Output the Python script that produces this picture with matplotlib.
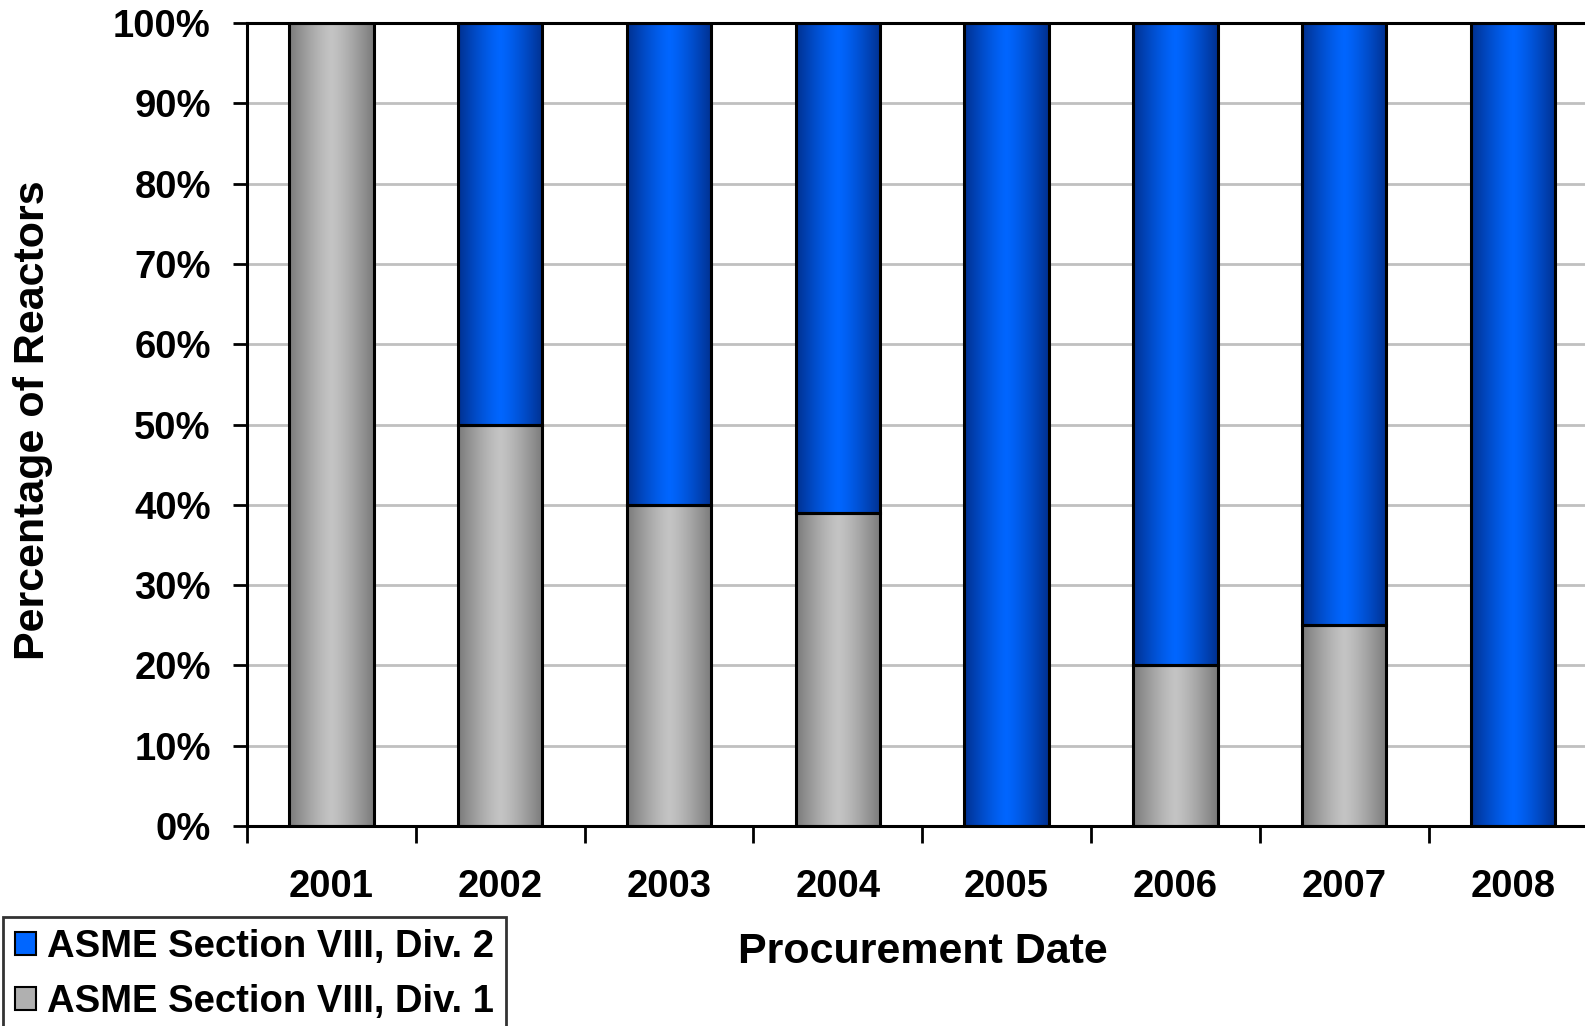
import numpy as np
import matplotlib
matplotlib.use("Agg")
import matplotlib.pyplot as plt
from matplotlib.patches import Patch, Rectangle

years = ["2001", "2002", "2003", "2004", "2005", "2006", "2007", "2008"]
div1 = [100, 50, 40, 39, 0, 20, 25, 0]
div2 = [0, 50, 60, 61, 100, 80, 75, 100]
labels = ["ASME Section VIII, Div. 2", "ASME Section VIII, Div. 1"]

plt.rcParams["font.family"] = ["Liberation Sans", "DejaVu Sans"]
plt.rcParams["font.weight"] = "bold"

fig = plt.figure(figsize=(15.85, 10.26), dpi=100)
ax = fig.add_axes([0.1558, 0.1949, 0.852, 0.7827])

x = np.arange(len(years))
width = 0.5

# horizontal shading: dark edges, light centre
t = np.linspace(0, 1, 200)
shade = 1 - np.clip(np.abs(t - 0.5) / 0.5, 0, 1) ** 1.3


def gradient(edge, centre):
    edge = np.array(matplotlib.colors.to_rgb(edge))
    centre = np.array(matplotlib.colors.to_rgb(centre))
    return (edge[None, :] + (centre - edge)[None, :] * shade[:, None])[None, :, :]


gray_img = gradient("#7a7a7a", "#c4c4c4")
blue_img = gradient("#00308f", "#0066ff")


def draw_bars(bottoms, heights, img):
    for xi, b, h in zip(x, bottoms, heights):
        if h <= 0:
            continue
        ax.imshow(img, extent=(xi - width / 2, xi + width / 2, b, b + h),
                  aspect="auto", zorder=2, interpolation="bilinear")
        ax.add_patch(Rectangle((xi - width / 2, b), width, h, facecolor="none",
                               edgecolor="black", linewidth=2.2, zorder=3))


draw_bars([0] * len(x), div1, gray_img)
draw_bars(div1, div2, blue_img)

ax.set_xlim(-0.5, len(years) - 0.5)
ax.set_ylim(0, 100)

ax.set_yticks(np.arange(0, 101, 10))
ax.set_yticklabels([f"{v}%" for v in range(0, 101, 10)], fontsize=27.5, fontweight="bold")
ax.yaxis.grid(True, color="#c0c0c0", linewidth=2, zorder=0)
ax.set_axisbelow(True)

ax.set_xticks(np.arange(len(years) + 1) - 0.5)
ax.set_xticklabels([])
ax.set_xticks(x, minor=True)
ax.set_xticklabels(years, minor=True, fontsize=27.5, fontweight="bold")
ax.tick_params(axis="x", which="minor", length=0, pad=31)
ax.tick_params(axis="x", which="major", length=12, width=2)
ax.tick_params(axis="y", length=10, width=2, pad=16)

for s in ["left", "bottom", "top"]:
    ax.spines[s].set_linewidth(2.2)
ax.spines["right"].set_visible(False)

fig.text(0.021, 0.59, "Percentage of Reactors", rotation=90, fontsize=31,
         fontweight="bold", ha="center", va="center")
fig.text(0.582, 0.072, "Procurement Date", fontsize=31, fontweight="bold",
         ha="center", va="center")

handles = [Patch(facecolor="#0066ff", edgecolor="black", linewidth=1.5),
           Patch(facecolor="#b0b0b0", edgecolor="black", linewidth=1.5)]
leg = fig.legend(handles, labels, loc="upper left", bbox_to_anchor=(0.002, 0.106),
                 prop={"weight": "bold", "size": 27.5}, frameon=True, fancybox=False,
                 handlelength=0.55, handleheight=0.55, handletextpad=0.3,
                 labelspacing=0.5, borderpad=0.3, borderaxespad=0)
leg.get_frame().set_edgecolor("black")
leg.get_frame().set_linewidth(2)

fig.savefig("out.png", dpi=100)
